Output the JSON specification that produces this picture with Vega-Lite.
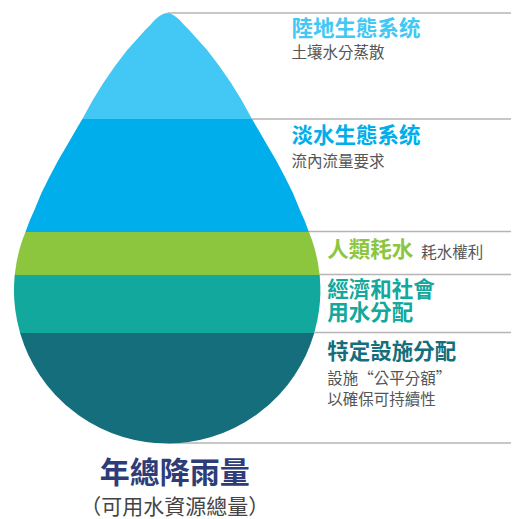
{
  "$schema": "https://vega.github.io/schema/vega-lite/v6.json",
  "width": 512,
  "height": 519,
  "autosize": {"type": "fit", "contains": "padding"},
  "padding": 0,
  "background": "white",
  "config": {"view": {"stroke": null}, "text": {"font": "Noto Sans CJK TC"}},
  "datasets": {
    "drop": [
      {"band": "1", "y": 13, "l": 167.5, "r": 167.5},
      {"band": "1", "y": 13.5, "l": 164.5, "r": 170.5},
      {"band": "1", "y": 15, "l": 161.5, "r": 173.5},
      {"band": "1", "y": 17, "l": 158.5, "r": 176.5},
      {"band": "1", "y": 20, "l": 155, "r": 180},
      {"band": "1", "y": 25, "l": 150.5, "r": 184.5},
      {"band": "1", "y": 30, "l": 145.5, "r": 189.5},
      {"band": "1", "y": 40, "l": 136.5, "r": 198.5},
      {"band": "1", "y": 50, "l": 127.5, "r": 207.5},
      {"band": "1", "y": 65, "l": 116, "r": 219},
      {"band": "1", "y": 83, "l": 103.5, "r": 231.5},
      {"band": "1", "y": 100, "l": 93, "r": 242},
      {"band": "1", "y": 119, "l": 82.5, "r": 252.5},
      {"band": "2", "y": 119, "l": 82.5, "r": 252.5},
      {"band": "2", "y": 130, "l": 76, "r": 259},
      {"band": "2", "y": 143, "l": 68.5, "r": 266.5},
      {"band": "2", "y": 160, "l": 58.5, "r": 276.5},
      {"band": "2", "y": 177, "l": 49.5, "r": 285.5},
      {"band": "2", "y": 193, "l": 41.5, "r": 293.5},
      {"band": "2", "y": 210, "l": 34.5, "r": 300.5},
      {"band": "2", "y": 220, "l": 30, "r": 305},
      {"band": "2", "y": 232, "l": 25.5, "r": 309.5},
      {"band": "3", "y": 232, "l": 25.5, "r": 309.5},
      {"band": "3", "y": 240, "l": 22.4, "r": 312.6},
      {"band": "3", "y": 250, "l": 19.3, "r": 315.7},
      {"band": "3", "y": 262, "l": 16.6, "r": 318.4},
      {"band": "3", "y": 275, "l": 14.7, "r": 320.3},
      {"band": "4", "y": 275, "l": 14.7, "r": 320.3},
      {"band": "4", "y": 285, "l": 14.1, "r": 320.9},
      {"band": "4", "y": 293, "l": 14, "r": 321},
      {"band": "4", "y": 300, "l": 14.3, "r": 320.7},
      {"band": "4", "y": 310, "l": 15.3, "r": 319.7},
      {"band": "4", "y": 320, "l": 17, "r": 318},
      {"band": "4", "y": 333, "l": 20.1, "r": 314.9},
      {"band": "5", "y": 333, "l": 20.1, "r": 314.9},
      {"band": "5", "y": 345, "l": 24.2, "r": 310.8},
      {"band": "5", "y": 355, "l": 28.4, "r": 306.6},
      {"band": "5", "y": 365, "l": 33.6, "r": 301.4},
      {"band": "5", "y": 375, "l": 39.7, "r": 295.3},
      {"band": "5", "y": 385, "l": 46.9, "r": 288.1},
      {"band": "5", "y": 395, "l": 55.5, "r": 279.5},
      {"band": "5", "y": 405, "l": 65.8, "r": 269.2},
      {"band": "5", "y": 415, "l": 78.4, "r": 256.6},
      {"band": "5", "y": 422, "l": 89.2, "r": 245.8},
      {"band": "5", "y": 428, "l": 100.3, "r": 234.7},
      {"band": "5", "y": 433, "l": 111.7, "r": 223.3},
      {"band": "5", "y": 437, "l": 123.3, "r": 211.7},
      {"band": "5", "y": 440, "l": 134.9, "r": 200.1},
      {"band": "5", "y": 442, "l": 146.1, "r": 188.9},
      {"band": "5", "y": 443, "l": 155.1, "r": 179.9},
      {"band": "5", "y": 443.5, "l": 167.5, "r": 167.5}
    ],
    "lines": [
      {"y": 13, "x": 168},
      {"y": 119, "x": 252},
      {"y": 231.5, "x": 309},
      {"y": 274.5, "x": 320},
      {"y": 332.5, "x": 315},
      {"y": 443, "x": 168}
    ],
    "labels": [
      {"role": "t1", "x": 292, "y": 29.5, "label": "陸地生態系统"},
      {"role": "t2", "x": 292, "y": 136.5, "label": "淡水生態系统"},
      {"role": "t3", "x": 328, "y": 250.5, "label": "人類耗水"},
      {"role": "t4", "x": 328, "y": 290.5, "label": "經濟和社會"},
      {"role": "t4", "x": 328, "y": 314, "label": "用水分配"},
      {"role": "t5", "x": 328, "y": 352.5, "label": "特定設施分配"},
      {"role": "sub", "x": 292, "y": 52.5, "label": "土壤水分蒸散"},
      {"role": "sub", "x": 292, "y": 161.5, "label": "流內流量要求"},
      {"role": "sub", "x": 422, "y": 252.5, "label": "耗水權利"},
      {"role": "sub", "x": 328, "y": 378.5, "label": "設施“公平分額”"},
      {"role": "sub", "x": 328, "y": 400, "label": "以確保可持續性"},
      {"role": "main", "x": 175, "y": 474, "label": "年總降雨量"},
      {"role": "mainsub", "x": 175, "y": 508, "label": "（可用水資源總量）"}
    ]
  },
  "layer": [
    {
      "data": {"name": "lines"},
      "mark": {"type": "rule", "color": "#B5B5B5", "strokeWidth": 1.4},
      "encoding": {
        "x": {"field": "x", "type": "quantitative", "scale": {"domain": [0, 512], "nice": false, "zero": false}, "axis": null},
        "x2": {"datum": 512},
        "y": {"field": "y", "type": "quantitative", "scale": {"domain": [0, 519], "nice": false, "zero": false, "reverse": true}, "axis": null}
      }
    },
    {
      "data": {"name": "drop"},
      "mark": {"type": "area", "orient": "horizontal", "interpolate": "linear"},
      "encoding": {
        "y": {"field": "y", "type": "quantitative", "scale": {"domain": [0, 519], "nice": false, "zero": false, "reverse": true}, "axis": null},
        "x": {"field": "l", "type": "quantitative", "stack": null, "scale": {"domain": [0, 512], "nice": false, "zero": false}, "axis": null},
        "x2": {"field": "r"},
        "color": {"field": "band", "type": "nominal", "legend": null,
          "scale": {"domain": ["1", "2", "3", "4", "5"], "range": ["#43C7F4", "#00AEEC", "#8CC63F", "#12A89D", "#146E7B"]}}
      }
    },
    {
      "data": {"name": "labels"},
      "transform": [{"filter": "indexof(['t1','t2','t3','t4','t5'], datum.role) >= 0"}],
      "mark": {"type": "text", "align": "left", "baseline": "middle", "fontSize": 21.5, "fontWeight": "bold"},
      "encoding": {
        "x": {"field": "x", "type": "quantitative", "scale": {"domain": [0, 512], "nice": false, "zero": false}, "axis": null},
        "y": {"field": "y", "type": "quantitative", "scale": {"domain": [0, 519], "nice": false, "zero": false, "reverse": true}, "axis": null},
        "text": {"field": "label"},
        "color": {"field": "role", "type": "nominal", "legend": null,
          "scale": {"domain": ["t1", "t2", "t3", "t4", "t5"], "range": ["#4DB9EA", "#1CAAE3", "#8DC63F", "#1AA89C", "#156E7A"]}}
      }
    },
    {
      "data": {"name": "labels"},
      "transform": [{"filter": "datum.role == 'sub'"}],
      "mark": {"type": "text", "align": "left", "baseline": "middle", "fontSize": 15.5, "color": "#555555"},
      "encoding": {
        "x": {"field": "x", "type": "quantitative", "scale": {"domain": [0, 512], "nice": false, "zero": false}, "axis": null},
        "y": {"field": "y", "type": "quantitative", "scale": {"domain": [0, 519], "nice": false, "zero": false, "reverse": true}, "axis": null},
        "text": {"field": "label"}
      }
    },
    {
      "data": {"name": "labels"},
      "transform": [{"filter": "datum.role == 'main'"}],
      "mark": {"type": "text", "align": "center", "baseline": "middle", "fontSize": 30, "fontWeight": "bold", "color": "#2E3D77"},
      "encoding": {
        "x": {"field": "x", "type": "quantitative", "scale": {"domain": [0, 512], "nice": false, "zero": false}, "axis": null},
        "y": {"field": "y", "type": "quantitative", "scale": {"domain": [0, 519], "nice": false, "zero": false, "reverse": true}, "axis": null},
        "text": {"field": "label"}
      }
    },
    {
      "data": {"name": "labels"},
      "transform": [{"filter": "datum.role == 'mainsub'"}],
      "mark": {"type": "text", "align": "center", "baseline": "middle", "fontSize": 21, "color": "#444444"},
      "encoding": {
        "x": {"field": "x", "type": "quantitative", "scale": {"domain": [0, 512], "nice": false, "zero": false}, "axis": null},
        "y": {"field": "y", "type": "quantitative", "scale": {"domain": [0, 519], "nice": false, "zero": false, "reverse": true}, "axis": null},
        "text": {"field": "label"}
      }
    }
  ]
}
